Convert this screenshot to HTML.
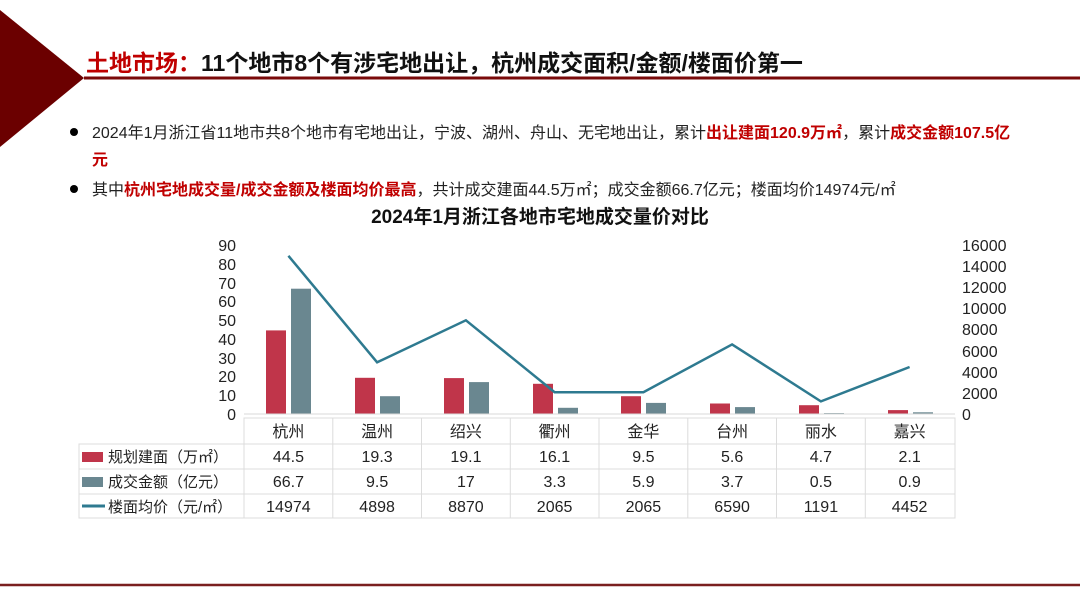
<!DOCTYPE html>
<html><head><meta charset="utf-8"><style>
body{margin:0;background:#fff;}
svg{display:block;font-family:"Liberation Sans","Noto Sans CJK SC",sans-serif;}
</style></head><body>
<svg width="1080" height="607" viewBox="0 0 1080 607" xmlns="http://www.w3.org/2000/svg">
<polygon points="0,10 84,78 0,147" fill="#6b0000"/>
<line x1="84" y1="78" x2="1080" y2="78" stroke="#7a0a0a" stroke-width="3"/>
<text x="86" y="71" font-size="23" font-weight="bold" fill="#c00000">土地市场：<tspan fill="#111">11个地市8个有涉宅地出让，杭州成交面积/金额/楼面价第一</tspan></text>
<circle cx="74" cy="132" r="4" fill="#000"/>
<text x="92" y="138" font-size="16" fill="#222">2024年1月浙江省11地市共8个地市有宅地出让，宁波、湖州、舟山、无宅地出让，累计<tspan fill="#c00000" font-weight="bold">出让建面120.9万㎡</tspan>，累计<tspan fill="#c00000" font-weight="bold">成交金额107.5亿</tspan></text>
<text x="92" y="165" font-size="16" fill="#c00000" font-weight="bold">元</text>
<circle cx="74" cy="189" r="4" fill="#000"/>
<text x="92" y="195" font-size="16" fill="#222">其中<tspan fill="#c00000" font-weight="bold">杭州宅地成交量/成交金额及楼面均价最高</tspan>，共计成交建面44.5万㎡；成交金额66.7亿元；楼面均价14974元/㎡</text>
<text x="540" y="223" font-size="19" font-weight="bold" fill="#111" text-anchor="middle">2024年1月浙江各地市宅地成交量价对比</text>
<g font-size="16" fill="#222" text-anchor="end">
<text x="236" y="251">90</text><text x="236" y="270">80</text><text x="236" y="289">70</text><text x="236" y="307">60</text><text x="236" y="326">50</text><text x="236" y="345">40</text><text x="236" y="364">30</text><text x="236" y="382">20</text><text x="236" y="401">10</text><text x="236" y="420">0</text>
</g>
<g font-size="16" fill="#222" text-anchor="start">
<text x="962" y="251">16000</text><text x="962" y="272">14000</text><text x="962" y="293">12000</text><text x="962" y="314">10000</text><text x="962" y="335">8000</text><text x="962" y="357">6000</text><text x="962" y="378">4000</text><text x="962" y="399">2000</text><text x="962" y="420">0</text>
</g>
<g fill="#c0354a">
<rect x="266" y="330.4" width="20" height="83.6"/><rect x="355" y="377.8" width="20" height="36.2"/><rect x="444" y="378.1" width="20" height="35.9"/><rect x="533" y="383.8" width="20" height="30.2"/><rect x="621" y="396.2" width="20" height="17.8"/><rect x="710" y="403.5" width="20" height="10.5"/><rect x="799" y="405.2" width="20" height="8.8"/><rect x="888" y="410.1" width="20" height="3.9"/>
</g>
<g fill="#6a8790">
<rect x="291" y="288.7" width="20" height="125.3"/><rect x="380" y="396.2" width="20" height="17.8"/><rect x="469" y="382.1" width="20" height="31.9"/><rect x="558" y="407.8" width="20" height="6.2"/><rect x="646" y="402.9" width="20" height="11.1"/><rect x="735" y="407.1" width="20" height="6.9"/><rect x="824" y="413.1" width="20" height="0.9"/><rect x="913" y="412.3" width="20" height="1.7"/>
</g>
<line x1="244" y1="414" x2="955" y2="414" stroke="#d9d9d9" stroke-width="1"/>
<polyline points="288.4,255.8 377.1,362.3 465.9,320.3 554.6,392.2 643.4,392.2 732.1,344.4 820.9,401.4 909.6,367" fill="none" stroke="#2e7a90" stroke-width="2.5"/>
<g stroke="#dcdcdc" stroke-width="1" fill="none">
<rect x="244" y="418" width="711" height="100"/>
<rect x="79" y="444" width="165" height="74"/>
<line x1="79" y1="469" x2="955" y2="469"/><line x1="79" y1="494" x2="955" y2="494"/><line x1="244" y1="444" x2="955" y2="444"/>
<line x1="332.8" y1="418" x2="332.8" y2="518"/><line x1="421.5" y1="418" x2="421.5" y2="518"/><line x1="510.3" y1="418" x2="510.3" y2="518"/><line x1="599" y1="418" x2="599" y2="518"/><line x1="687.8" y1="418" x2="687.8" y2="518"/><line x1="776.5" y1="418" x2="776.5" y2="518"/><line x1="865.3" y1="418" x2="865.3" y2="518"/>
</g>
<rect x="82" y="452" width="21" height="10" fill="#c0354a"/>
<rect x="82" y="477" width="21" height="10" fill="#6a8790"/>
<line x1="82" y1="506" x2="105" y2="506" stroke="#2e7a90" stroke-width="3"/>
<g font-size="15" fill="#222">
<text x="108" y="462">规划建面（万㎡）</text><text x="108" y="487">成交金额（亿元）</text><text x="108" y="512">楼面均价（元/㎡）</text>
</g>
<g font-size="16" fill="#222" text-anchor="middle">
<text x="288.4" y="437">杭州</text><text x="377.1" y="437">温州</text><text x="465.9" y="437">绍兴</text><text x="554.6" y="437">衢州</text><text x="643.4" y="437">金华</text><text x="732.1" y="437">台州</text><text x="820.9" y="437">丽水</text><text x="909.6" y="437">嘉兴</text>
<text x="288.4" y="462">44.5</text><text x="377.1" y="462">19.3</text><text x="465.9" y="462">19.1</text><text x="554.6" y="462">16.1</text><text x="643.4" y="462">9.5</text><text x="732.1" y="462">5.6</text><text x="820.9" y="462">4.7</text><text x="909.6" y="462">2.1</text>
<text x="288.4" y="487">66.7</text><text x="377.1" y="487">9.5</text><text x="465.9" y="487">17</text><text x="554.6" y="487">3.3</text><text x="643.4" y="487">5.9</text><text x="732.1" y="487">3.7</text><text x="820.9" y="487">0.5</text><text x="909.6" y="487">0.9</text>
<text x="288.4" y="512">14974</text><text x="377.1" y="512">4898</text><text x="465.9" y="512">8870</text><text x="554.6" y="512">2065</text><text x="643.4" y="512">2065</text><text x="732.1" y="512">6590</text><text x="820.9" y="512">1191</text><text x="909.6" y="512">4452</text>
</g>
<line x1="0" y1="585" x2="1080" y2="585" stroke="#7a1f1f" stroke-width="2.5"/>
</svg>
</body></html>
